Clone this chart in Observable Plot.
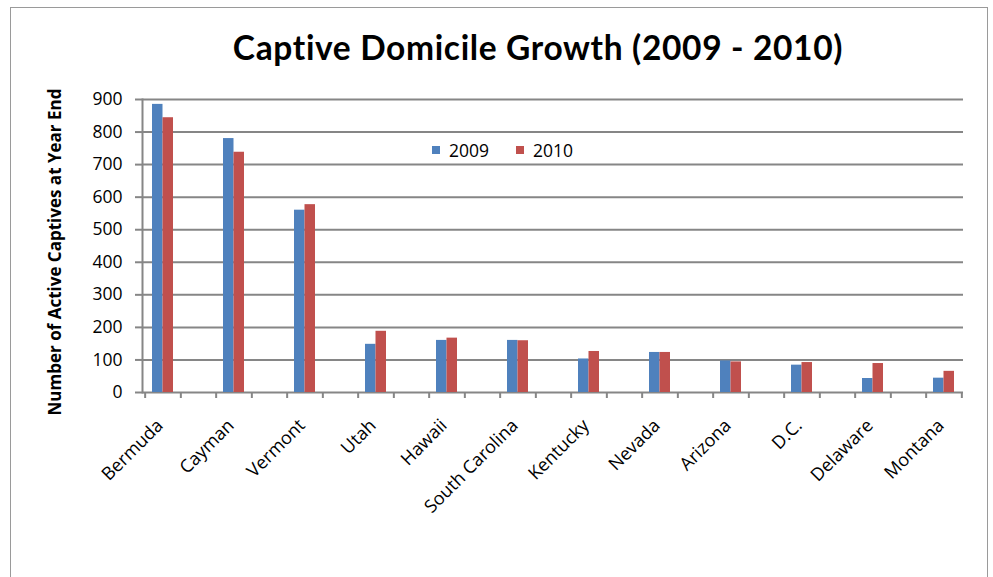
<!DOCTYPE html>
<html>
<head>
<meta charset="utf-8">
<script src="https://cdn.jsdelivr.net/npm/d3@7"></script>
<script src="https://cdn.jsdelivr.net/npm/@observablehq/plot@0.6"></script>
<style>
  html, body { margin: 0; padding: 0; background: #fff; }
  #wrap { position: relative; width: 993px; height: 577px; overflow: hidden; font-family: "Open Sans", sans-serif; }
  #border { position: absolute; left: 10px; top: 7px; width: 978px; height: 600px; border: 1.5px solid #9a9a9a; box-sizing: border-box; }
  #chart { position: absolute; left: 0; top: 0; }
  #chart svg text { font-variant-ligatures: none; }
  #chart svg [font-family^="Lato"] { letter-spacing: 0.65px; }
  #legend { position: absolute; left: 432px; top: 138px; display: flex; align-items: center; font-size: 17.5px; color: #000; }
  .item { display: flex; align-items: center; margin-right: 27px; }
  .sw { width: 8px; height: 8px; margin-right: 9px; }
</style>
</head>
<body>
<div id="wrap">
  <div id="border"></div>
  <div id="chart"></div>
  <div id="legend"></div>
</div>
<script>
const title = "Captive Domicile Growth (2009 - 2010)";
const yLabel = "Number of Active Captives at Year End";
const states = ["Bermuda", "Cayman", "Vermont", "Utah", "Hawaii", "South Carolina", "Kentucky", "Nevada", "Arizona", "D.C.", "Delaware", "Montana"];
const v2009 = [885, 780, 560, 148, 160, 160, 103, 123, 97, 84, 43, 44];
const v2010 = [844, 738, 577, 188, 167, 159, 126, 123, 94, 92, 89, 65];
const seriesNames = ["2009", "2010"];
const seriesColors = ["#4F81BD", "#C0504D"];
const yTicks = [0, 100, 200, 300, 400, 500, 600, 700, 800, 900];

const rows2009 = states.map((s, i) => ({state: s, value: v2009[i]}));
const rows2010 = states.map((s, i) => ({state: s, value: v2010[i]}));

const gridColor = "#868686";

const chart = Plot.plot({
  width: 993,
  height: 577,
  marginLeft: 142,
  marginRight: 30,
  marginTop: 99,
  marginBottom: 185,
  style: {fontFamily: "'Open Sans', sans-serif", fontSize: "17.5px", color: "#000", background: "transparent"},
  x: {type: "band", domain: states, paddingInner: 0.706, paddingOuter: 0.103},
  y: {domain: [0, 900]},
  marks: [
    Plot.ruleY(yTicks, {stroke: gridColor, strokeWidth: 2}),
    Plot.frame({anchor: "left", stroke: gridColor, strokeWidth: 2}),
    Plot.axisY({ticks: yTicks, tickSize: 7, tickPadding: 13, stroke: gridColor, strokeWidth: 2, label: null, fill: "#000"}),
    Plot.axisX({tickSize: 0, tickRotate: -45, tickPadding: 30, dx: -3, fontSize: 18, label: null, fill: "#000"}),
    Plot.axisX({text: null, tickSize: 6, dx: -17.85, stroke: gridColor, strokeWidth: 2, label: null}),
    Plot.axisX({text: null, tickSize: 6, dx: 17.85, stroke: gridColor, strokeWidth: 2, label: null}),
    Plot.barY(rows2009, {x: "state", y: "value", fill: seriesColors[0], insetRight: 10.5}),
    Plot.barY(rows2010, {x: "state", y: "value", fill: seriesColors[1], insetLeft: 10.5}),
    Plot.text([title], {frameAnchor: "top", dx: -15, dy: -63, fontSize: 33.5, fontWeight: "bold", fill: "#000", fontFamily: "Lato, sans-serif"}),
    Plot.text([yLabel], {frameAnchor: "left", textAnchor: "middle", rotate: -90, dx: -87, dy: 6, fontSize: 17, fontWeight: "bold", fill: "#000"})
  ]
});
document.getElementById("chart").appendChild(chart);

const legend = document.getElementById("legend");
seriesNames.forEach((n, i) => {
  const it = document.createElement("div");
  it.className = "item";
  const sw = document.createElement("span");
  sw.className = "sw";
  sw.style.background = seriesColors[i];
  const t = document.createElement("span");
  t.textContent = n;
  it.appendChild(sw); it.appendChild(t);
  legend.appendChild(it);
});
</script>
</body>
</html>
